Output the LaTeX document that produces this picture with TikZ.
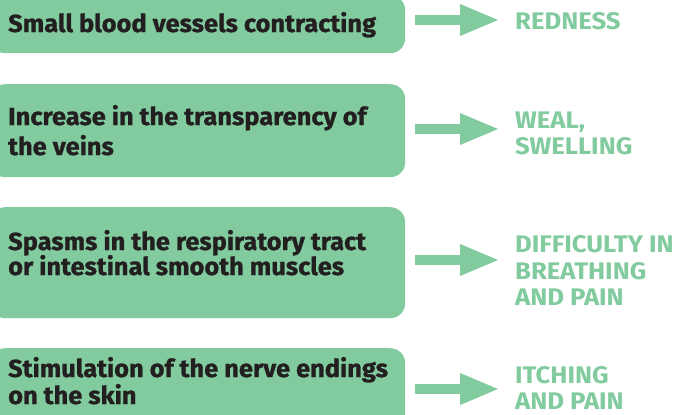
\documentclass[tikz,border=0pt]{standalone}
\usepackage{fontspec}
\usepackage{tikz}
\usetikzlibrary{positioning, arrows.meta}
\newfontfamily\causefont{Fira Sans}[FakeStretch=1.03, BoldFeatures={FakeBold=1}]
\newfontfamily\effectfont{Fira Sans}[FakeStretch=1.07]
\definecolor{mint}{RGB}{129,203,159}
\definecolor{ink}{RGB}{35,31,32}

\begin{document}
\begin{tikzpicture}[
  x=1bp, y=-1bp,
  cause/.style={fill=mint, rounded corners=15bp, anchor=north west,
                minimum width=415bp, inner sep=0pt},
  causetext/.style={anchor=base west, align=left, inner sep=0pt, text=ink,
                    font=\causefont\bfseries\fontsize{24.7bp}{27bp}\selectfont},
  effect/.style={anchor=base west, align=left, inner sep=0pt, text=mint,
                 font=\effectfont\bfseries\fontsize{24bp}{27bp}\selectfont},
  arr/.style={draw=mint, line width=10bp, shorten <=10bp,
              -{Triangle[length=38bp, width=32bp, line width=0pt]}}
]
\useasboundingbox (0,0) rectangle (673,414);
\clip (0,0) rectangle (673,414);

% causes (base anchor = last line)
\node[cause, minimum height=58bp] (c1) at (-10,-5) {};
\node[cause, minimum height=93bp] (c2) at (-10,84) {};
\node[cause, minimum height=111bp] (c3) at (-10,207) {};
\node[cause, minimum height=92bp] (c4) at (-10,348) {};

\node[causetext] (c1txt) at (8,32) {Small blood vessels contracting};
\node[causetext] (c2txt) at (8,155) {Increase in the transparency of\\[3bp] the veins};
\node[causetext] (c3txt) at (8,275) {Spasms in the respiratory tract\\[-2bp] or intestinal smooth muscles};
\node[causetext] (c4txt) at (8,404) {Stimulation of the nerve endings\\ on the skin};

% effects
\node[effect] (e1) at (515,29) {REDNESS};
\node[effect] (e2) at (515,154) {WEAL,\\[-1bp] SWELLING};
\node[effect] (e3) at (515,305) {DIFFICULTY IN\\ BREATHING\\[-1bp] AND PAIN};
\node[effect] (e4) at (515,409) {ITCHING\\[-1bp] AND PAIN};

\coordinate (t1) at (498,20);
\coordinate (t2) at (498,129);
\coordinate (t3) at (498,260);
\coordinate (t4) at (498,389);

\draw[arr] (c1.east |- t1) -- (t1);
\draw[arr] (c2.east |- t2) -- (t2);
\draw[arr] (c3.east |- t3) -- (t3);
\draw[arr] (c4.east |- t4) -- (t4);
\end{tikzpicture}
\end{document}
